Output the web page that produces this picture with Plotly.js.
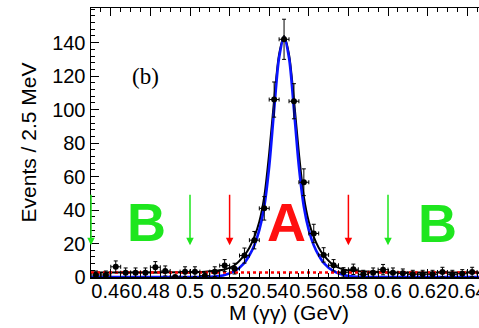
<!DOCTYPE html>
<html>
<head>
<meta charset="utf-8">
<script src="https://cdn.plot.ly/plotly-3.0.1.min.js"></script>
<style>
html,body{margin:0;padding:0;overflow:hidden;background:#fff;}
#plot{width:500px;height:328px;}
</style>
</head>
<body>
<div id="plot"></div>
<script>
// Bin centres (GeV) and measured events
const binCenters = [0.4525,0.4575,0.4625,0.4675,0.4725,0.4775,0.4825,0.4875,0.4925,0.4975,
  0.5025,0.5075,0.5125,0.5175,0.5225,0.5275,0.5325,0.5375,0.5425,0.5475,
  0.5525,0.5575,0.5625,0.5675,0.5725,0.5775,0.5825,0.5875,0.5925,0.5975,
  0.6025,0.6075,0.6125,0.6175,0.6225,0.6275,0.6325,0.6375,0.6425,0.6475];
const events = [1.2,1.2,6.1,2.6,2.6,2.6,5.8,3.6,0,3.2,
  3.2,0.8,3.2,6.8,5.0,12.8,22,41,106,142,
  105,56.6,26,13.2,7,2.8,4.6,1.6,2.6,4.4,
  2.6,2.2,1.6,1.6,1.6,3.0,1.6,1.9,3.0,2.2];
const eventErrors = [2.4,2.4,3.5,2.8,2.8,2.8,3.4,3.0,0,2.9,
  2.9,2.2,2.9,3.6,3.2,4.5,5.2,7.0,10.5,12.0,
  10.5,8.0,5.5,4.3,3.4,2.8,3.1,2.4,2.8,3.1,
  2.8,2.6,2.4,2.4,2.4,2.8,2.4,2.5,2.8,2.5];
const halfBin = [0.0025];

// Fit curves
const fitX = [0.45,0.4975,0.5075,0.5125,0.5175,0.5225,0.5275,0.53,0.5325,0.535,0.5375,0.54,0.5425,0.545,
  0.5475,0.55,0.5525,0.555,0.5575,0.56,0.5625,0.565,0.5675,0.5725,0.5775,0.5825,0.5975,0.65];
const fitTotal = [2.7,2.9,3.2,3.7,4.5,7,13,17.5,24,33,48,74,106,133,
  144,133,106,74,48,33,24,17.5,13,7,4.5,3.7,2.9,2.7];
const fitSignal = [0,0,0,0.3,1.2,3.5,8.5,13,19,28,42,66,100,131,
  143,131,100,66,42,28,19,13,8.5,3.5,1.2,0.3,0,0];
const bkgX = [0.45,0.65];
const bkgY = [2.7,2.7];

// Region arrows and labels
const greenArrowX = [0.45,0.50,0.60];
const redArrowX = [0.52,0.58];
const arrowTip = 19;
const arrowTail = 50;
const regionLabels = ['B','A','B'];
const regionLabelX = [0.478,0.5487,0.625];
const regionLabelY = [33,33,32];
const regionLabelColors = ['#1ee61e','#ff1010','#1ee61e'];

// Axes
const xTickVals = [0.46,0.48,0.50,0.52,0.54,0.56,0.58,0.60,0.62,0.64];
const xTickText = ['0.46','0.48','0.5','0.52','0.54','0.56','0.58','0.6','0.62','0.64'];
const yTickVals = [0,20,40,60,80,100,120,140];
const yTickText = ['0','20','40','60','80','100','120','140'];
const xRange = [0.45,0.65];
const yRange = [0,160.7];

const traces = [
  {x: fitX, y: fitTotal, mode:'lines', line:{color:'#000000', width:2, shape:'spline', smoothing:0.8}, hoverinfo:'skip'},
  {x: fitX, y: fitSignal, mode:'lines', line:{color:'#0a14ff', width:2.6, shape:'spline', smoothing:0.8}, hoverinfo:'skip'},
  {x: bkgX, y: bkgY, mode:'lines', line:{color:'#ff0000', width:2.5, dash:'dot'}, hoverinfo:'skip'},
  {x: binCenters, y: events, mode:'markers',
   marker:{color:'#000000', size:6},
   error_y:{type:'data', array: eventErrors, visible:true, color:'#000000', thickness:1, width:2},
   error_x:{type:'constant', value: halfBin[0], visible:true, color:'#000000', thickness:1, width:2}}
];

const annotations = [];
greenArrowX.forEach(function(x){
  annotations.push({x:x, y:arrowTip, ax:x, ay:arrowTail, xref:'x', yref:'y', axref:'x', ayref:'y',
    showarrow:true, arrowhead:2, arrowsize:1, arrowwidth:1.5, arrowcolor:'#1ee61e', text:''});
});
redArrowX.forEach(function(x){
  annotations.push({x:x, y:arrowTip, ax:x, ay:arrowTail, xref:'x', yref:'y', axref:'x', ayref:'y',
    showarrow:true, arrowhead:2, arrowsize:1, arrowwidth:1.5, arrowcolor:'#ff0000', text:''});
});
regionLabels.forEach(function(t,i){
  annotations.push({x:regionLabelX[i], y:regionLabelY[i], xref:'x', yref:'y', showarrow:false,
    text:'<b>'+t+'</b>', font:{family:'Liberation Sans, Arial, sans-serif', size:54, color:regionLabelColors[i]},
    xanchor:'center', yanchor:'middle'});
});
annotations.push({x:0.4775, y:120, xref:'x', yref:'y', showarrow:false, text:'(b)',
  font:{family:'Liberation Serif, Times New Roman, serif', size:23, color:'#000'}, xanchor:'center', yanchor:'middle'});

const layout = {
  width:500, height:328,
  margin:{l:91, r:13, t:8, b:51, pad:0},
  paper_bgcolor:'#ffffff', plot_bgcolor:'#ffffff',
  showlegend:false,
  font:{family:'Liberation Sans, Arial, sans-serif', color:'#000000'},
  xaxis:{range:xRange, tickmode:'array', tickvals:xTickVals, ticktext:xTickText, tickangle:0,
    ticks:'inside', ticklen:8, tickwidth:1, tickcolor:'#000', ticklabelstandoff:-5,
    minor:{tickmode:'linear', tick0:0.45, dtick:0.005, ticks:'inside', ticklen:4, tickcolor:'#000', showgrid:false},
    showline:true, linecolor:'#000', linewidth:1.5, mirror:'ticks', showgrid:false, zeroline:false,
    tickfont:{size:20, color:'#000'},
    title:{text:'M (γγ) (GeV)', font:{size:21, color:'#000'}, standoff:0}},
  yaxis:{range:yRange, tickmode:'array', tickvals:yTickVals, ticktext:yTickText,
    ticks:'inside', ticklen:8, tickwidth:1, tickcolor:'#000',
    minor:{tickmode:'linear', tick0:0, dtick:4, ticks:'inside', ticklen:4, tickcolor:'#000', showgrid:false},
    showline:true, linecolor:'#000', linewidth:1.5, mirror:'ticks', showgrid:false, zeroline:false,
    tickfont:{size:20, color:'#000'},
    title:{text:'Events / 2.5 MeV', font:{size:21, color:'#000'}, standoff:10}},
  annotations: annotations
};

Plotly.newPlot('plot', traces, layout, {displayModeBar:false, staticPlot:true});
</script>
</body>
</html>
